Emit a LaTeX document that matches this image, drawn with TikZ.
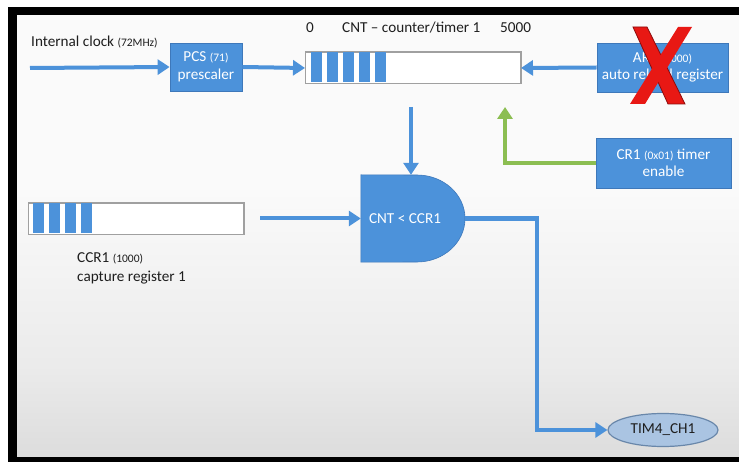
\documentclass[tikz,border=0pt]{standalone}
\usepackage{fontspec}
\setmainfont{Carlito}
\usetikzlibrary{arrows.meta,shapes.geometric}
\definecolor{boxblue}{RGB}{76,146,218}
\definecolor{edgeblue}{RGB}{62,120,186}
\definecolor{flowgreen}{RGB}{140,190,82}
\definecolor{ovalfill}{RGB}{170,196,226}
\definecolor{ovaledge}{RGB}{105,135,170}
\definecolor{crossred}{RGB}{232,24,20}
\definecolor{crossedge}{RGB}{140,10,10}
\definecolor{inktext}{RGB}{30,30,30}
\definecolor{regedge}{RGB}{160,160,160}
% backdrop: light grey at the top, white in the middle, darker grey at the bottom
\pgfdeclareverticalshading{backdrop}{100bp}{%
  color(0bp)=(black!27); color(15bp)=(black!19); color(35bp)=(black!8);
  color(55bp)=(black!2); color(75bp)=(black!2); color(100bp)=(black!8)}
\newcommand{\smallpart}[1]{{\fontsize{11.5}{13}\selectfont #1}}
\begin{document}
\begin{tikzpicture}[x=1pt,y=-1pt,
  font=\fontsize{15.2}{17.5}\selectfont,
  blockbox/.style={rectangle, fill=boxblue, draw=edgeblue, line width=0.8pt,
    text=white, align=center, inner sep=0pt},
  regbox/.style={rectangle, fill=white, draw=regedge, line width=1pt,
    inner sep=0pt, anchor=north west},
  bit/.style={fill=boxblue},
  plain/.style={text=inktext, inner sep=0pt},
  flow/.style={draw=boxblue, line width=4pt,
    -{Triangle[length=12pt,width=15pt]}},
  enableflow/.style={draw=flowgreen, line width=4pt,
    -{Triangle[length=12pt,width=15pt]}},
  cross/.style={fill=crossred, draw=crossedge, line width=0.8pt, line join=miter}
]
% page, frame and shaded backdrop
\useasboundingbox (0,0) rectangle (739,462);
\fill[white] (0,0) rectangle (739,462);
\fill[black] (8,7) rectangle (739,462);
\shade[shading=backdrop] (17,16) rectangle (739,456);

% clock input and prescaler
\node[plain, anchor=base west] (clk) at (31,47)
  {Internal clock \smallpart{(72MHz)}};
\coordinate (clkin) at (30,68);
\node[blockbox, minimum width=72pt, minimum height=48pt] (pcs) at (206,67)
  {PCS \smallpart{(71)}\\prescaler};

% counter register
\node[regbox, minimum width=215pt, minimum height=31pt] (cnt) at (305,52) {};
\foreach \i in {0,...,4}
  \fill[bit] (311+16*\i,52.5) rectangle ++(11,30);
\draw[regedge, line width=1pt] (cnt.north west) rectangle (cnt.south east);
\node[plain, anchor=base] (cntzero) at (310,33) {0};
\node[plain, anchor=base west] (cntname) at (342,33) {CNT – counter/timer 1};
\node[plain, anchor=base west] (cntmax) at (500,33) {5000};

% auto reload register (struck out)
\node[blockbox, minimum width=131pt, minimum height=49pt] (arr) at (662.5,67.5)
  {ARR \smallpart{(5000)}\\auto reload register};

% control register
\node[blockbox, minimum width=135pt, minimum height=50pt] (cr1) at (663.5,163)
  {CR1 \smallpart{(0x01)} timer\\enable};

% capture/compare register
\node[regbox, minimum width=215pt, minimum height=31pt] (ccr) at (28,203) {};
\foreach \i in {0,...,3}
  \fill[bit] (33+16*\i,203.5) rectangle ++(11,30);
\draw[regedge, line width=1pt] (ccr.north west) rectangle (ccr.south east);
\node[plain, anchor=base west] (ccrname) at (77,263) {CCR1 \smallpart{(1000)}};
\node[plain, anchor=base west] (ccrdesc) at (77,282) {capture register 1};

% comparator gate
\node[rectangle, minimum width=104pt, minimum height=87pt, inner sep=0pt]
  (gate) at (413,218.5) {};
\fill[boxblue] (gate.north west) -- (417,175)
  arc[start angle=90, end angle=-90, x radius=48pt, y radius=43.5pt]
  -- (gate.south west) -- cycle;
\draw[edgeblue, line width=0.6pt] (gate.north west) -- (417,175)
  arc[start angle=90, end angle=-90, x radius=48pt, y radius=43.5pt]
  -- (gate.south west) -- cycle;
\node[text=white, inner sep=0pt] (gatetext) at (405,219) {CNT < CCR1};

% output channel
\node[ellipse, fill=ovalfill, draw=ovaledge, line width=1.2pt,
  minimum width=110pt, minimum height=33pt, inner sep=0pt, text=inktext]
  (tim) at (663,430) {TIM4\_CH1};

% connectors
\draw[flow] (clkin) -- (pcs.west);
\draw[flow] (pcs.east) -- (cnt.west);
\draw[flow] (arr.west) -- (cnt.east);
\coordinate (cntout) at (411,107);
\draw[flow] (cntout) -- (cntout |- gate.north);
\coordinate (ccrout) at (260,218.5);
\draw[flow] (ccrout) -- (gate.west);
\coordinate (enbend) at (505,163);
\coordinate (entip) at (505,107);
\draw[enableflow] (cr1.west) -- (enbend) -- (entip);
\coordinate (gateout) at (465,218.5);
\coordinate (outtop) at (537,218.5);
\draw[flow, line width=4.5pt, line join=miter] (gateout) -- (outtop)
  -- (outtop |- tim.west) -- (tim.west);

% red cross over the reload register
\draw[cross] (633,27) -- (647,27) -- (685,104) -- (668,104) -- cycle;
\fill[crossred] (678,27) -- (692,27) -- (645,104) -- (630,104) -- cycle;
\end{tikzpicture}
\end{document}
